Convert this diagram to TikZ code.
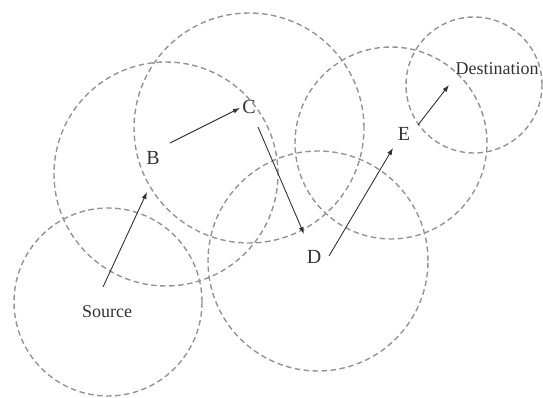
\documentclass[tikz,border=0pt]{standalone}
\usepackage{fontspec}
\setmainfont{Liberation Serif}
\usepackage{tikz}
\usetikzlibrary{arrows.meta,positioning}

\begin{document}
\begin{tikzpicture}[
  x=1pt,y=-1pt,
  txrange/.style={draw=gray!85,circle,dashed,dash pattern=on 5.5pt off 3.5pt,
                line width=1.4pt,inner sep=0pt},
  lbl/.style={font=\fontsize{18}{20}\selectfont,text=black!80,inner sep=0pt},
  hostlbl/.style={lbl,font=\fontsize{20}{22}\selectfont},
  hop/.style={-{Latex[length=7pt,width=5pt]},line width=0.9pt,black!80}
]
\useasboundingbox (0,0) rectangle (543,398);
% transmission ranges
\node[txrange,minimum size=188pt] (rsrc) at (108,302) {};
\node[txrange,minimum size=224pt] (rb) at (166,174) {};
\node[txrange,minimum size=230pt] (rc) at (249,128) {};
\node[txrange,minimum size=220pt] (rd) at (318,261) {};
\node[txrange,minimum size=192pt] (re) at (391,143) {};
\node[txrange,minimum size=136pt] (rdst) at (474,85) {};
% hosts
\node[lbl] (src) at (107,312) {Source};
\node[hostlbl] (b) at (153,158) {B};
\node[hostlbl] (c) at (249,107) {C};
\node[hostlbl] (d) at (314,257) {D};
\node[hostlbl] (e) at (404,134) {E};
\node[lbl] (dst) at (497,69) {Destination};
\coordinate (s0) at (103,287);
\coordinate (b0) at (147,192);
\coordinate (b1) at (170,143);
\coordinate (c0) at (240,108);
\coordinate (c1) at (258,127);
\coordinate (d0) at (304,234);
\coordinate (d1) at (329,256);
\coordinate (e0) at (393,148);
\coordinate (e1) at (418,125);
\coordinate (t0) at (449,85);
\draw[hop] (s0)--(b0);
\draw[hop] (b1)--(c0);
\draw[hop] (c1)--(d0);
\draw[hop] (d1)--(e0);
\draw[hop] (e1)--(t0);
\end{tikzpicture}
\end{document}
